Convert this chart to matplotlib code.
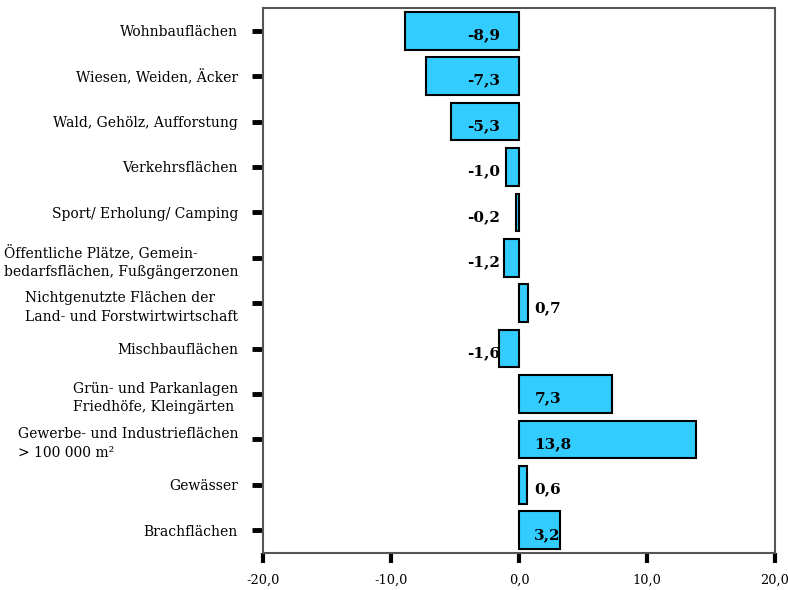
import numpy as np
import matplotlib.pyplot as plt

# Flaechennutzung: Veraenderung je Kategorie
kategorien = [
    "Wohnbauflächen",
    "Wiesen, Weiden, Äcker",
    "Wald, Gehölz, Aufforstung",
    "Verkehrsflächen",
    "Sport/ Erholung/ Camping",
    "Öffentliche Plätze, Gemein-\nbedarfsflächen, Fußgängerzonen",
    "Nichtgenutzte Flächen der\nLand- und Forstwirtwirtschaft",
    "Mischbauflächen",
    "Grün- und Parkanlagen\nFriedhöfe, Kleingärten",
    "Gewerbe- und Industrieflächen\n> 100 000 m²",
    "Gewässer",
    "Brachflächen",
]
werte = [-8.9, -7.3, -5.3, -1.0, -0.2, -1.2, 0.7, -1.6, 7.3, 13.8, 0.6, 3.2]
xticks = [-20, -10, 0, 10, 20]

fig = plt.figure(figsize=(7.88, 5.90), dpi=100)
ax = fig.add_axes([263/788, 1-553/590, 512/788, 545/590])

y = np.arange(len(kategorien))
ax.barh(y, werte, height=0.83, color="#33CCFF", edgecolor="black", linewidth=1.5)
ax.set_xlim(-20, 20)
ax.set_ylim(len(kategorien)-0.5, -0.5)

# Beschriftung der Werte: negativ links von Null, positiv rechts davon
for yi, w in zip(y, werte):
    txt = ("%.1f" % w).replace(".", ",")
    if w < 0:
        ax.text(-1.5, yi+0.1, txt, ha="right", va="center",
                family="DejaVu Serif", fontweight="bold", fontsize=11)
    else:
        ax.text(1.2, yi+0.1, txt, ha="left", va="center",
                family="DejaVu Serif", fontweight="bold", fontsize=11)

ax.set_yticks(y)
ax.set_yticklabels(kategorien, family="DejaVu Serif", fontsize=10,
                   multialignment="left", linespacing=1.45)
ax.set_xticks(xticks)
ax.set_xticklabels([("%.1f" % v).replace(".", ",") for v in xticks],
                   family="DejaVu Serif", fontsize=9.3)

ax.tick_params(axis="y", length=8, width=3.5, pad=10, color="black")
ax.tick_params(axis="x", length=7, width=3, pad=8, color="black")
for s in ax.spines.values():
    s.set_color("#555555")
    s.set_linewidth(1.5)

fig.savefig("out.png", dpi=100)
